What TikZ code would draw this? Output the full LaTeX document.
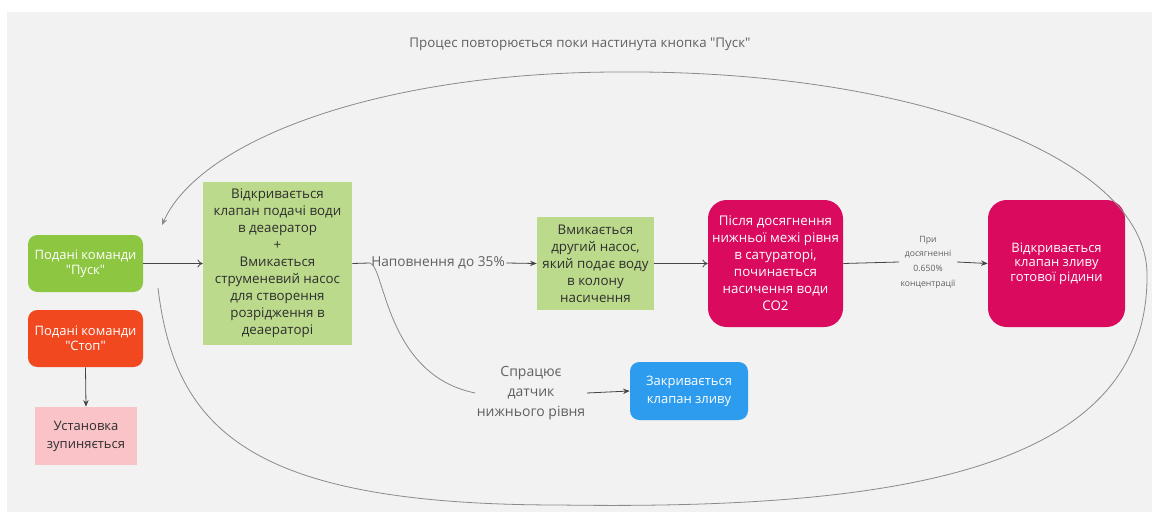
\documentclass[tikz,border=0pt]{standalone}
\usepackage{fontspec}
\setmainfont{Open Sans}[Ligatures=TeXOff]
\usetikzlibrary{arrows.meta}
\definecolor{bggray}{HTML}{F2F2F2}
\definecolor{puskgreen}{HTML}{8DC641}
\definecolor{stopred}{HTML}{F1481F}
\definecolor{pinkbox}{HTML}{F9C3C7}
\definecolor{lightgreen}{HTML}{BCDA8C}
\definecolor{magentabox}{HTML}{DA0A5E}
\definecolor{bluebox}{HTML}{2D9CEF}
\definecolor{darktext}{HTML}{2E2E2E}
\definecolor{graytext}{HTML}{606060}
\definecolor{linecol}{HTML}{444444}
\definecolor{loopcol}{HTML}{8A8A8A}
\begin{document}
\begin{tikzpicture}[x=0.75pt,y=-0.75pt,
  box/.style={align=center,inner sep=0pt,font=\fontsize{10}{12.75}\selectfont},
  whitebox/.style={box,text=white},
  darkbox/.style={box,text=darktext},
  lbl/.style={align=center,inner sep=1pt,text=graytext},
  conn/.style={draw=linecol,line width=0.6pt},
  arr/.style={conn,-{Stealth[length=5pt,width=4pt]}},
  openarr/.style={conn,-{To[length=4pt,width=6pt]}},
  loop/.style={draw=loopcol,line width=0.6pt}]
\useasboundingbox (0,0) rectangle (1152,524);
\fill[white] (0,0) rectangle (1152,524);
\fill[bggray] (7,12) rectangle (1152,512);

\node[lbl,font=\fontsize{10}{12}\selectfont] (title) at (580,44) {Процес повторюється поки настинута кнопка "Пуск"};

\node[whitebox,fill=puskgreen,rounded corners=7pt,minimum width=115*0.75pt,minimum height=57*0.75pt,font=\fontsize{9.75}{11.25}\selectfont] (pusk) at (85.5,263.5) {Подані команди\\"Пуск"};
\node[whitebox,fill=stopred,rounded corners=7pt,minimum width=115*0.75pt,minimum height=57*0.75pt,font=\fontsize{9.75}{11.25}\selectfont] (stop) at (85.5,338.5) {Подані команди\\"Стоп"};
\node[box,text=darktext,fill=pinkbox,minimum width=102*0.75pt,minimum height=58*0.75pt,font=\fontsize{9.75}{13.5}\selectfont] (ust) at (86,436) {Установка\\зупиняється};

\node[darkbox,fill=lightgreen,minimum width=149*0.75pt,minimum height=163*0.75pt] (box1) at (277.5,263.5) {Відкривається\\клапан подачі води\\в деаератор\\+\\Вмикається\\струменевий насос\\для створення\\розрідження в\\деаераторі};

\node[lbl,font=\fontsize{10.25}{12}\selectfont] (nap) at (438,263) {Наповнення до 35\%};

\node[darkbox,fill=lightgreen,minimum width=117*0.75pt,minimum height=93*0.75pt] (box2) at (595.5,263.5) {Вмикається\\другий насос,\\який подає воду\\в колону\\насичення};

\node[whitebox,fill=magentabox,rounded corners=14pt,minimum width=135*0.75pt,minimum height=127*0.75pt] (box3) at (775.5,263.5) {Після досягнення\\нижньої межі рівня\\в сатураторі,\\починається\\насичення води\\CO2};

\node[lbl,font=\fontsize{6.5}{11}\selectfont] (pri) at (928,262) {При\\досягненні\\0.650\%\\концентрації};

\node[whitebox,fill=magentabox,rounded corners=14pt,minimum width=137*0.75pt,minimum height=127*0.75pt,font=\fontsize{9.75}{10.75}\selectfont] (box4) at (1056.5,263.5) {Відкривається\\клапан зливу\\готової рідини};

\node[lbl,font=\fontsize{10.5}{15}\selectfont] (sensor) at (531,393) {Спрацює\\датчик\\нижнього рівня};

\node[whitebox,fill=bluebox,rounded corners=7pt,minimum width=118*0.75pt,minimum height=58*0.75pt,font=\fontsize{9.75}{13.5}\selectfont] (blue) at (689,391) {Закривається\\клапан зливу};

% connectors
\draw[openarr] (pusk.east) -- (box1.west);
\draw[arr] (stop.south) -- (ust.north);
\draw[conn] (box1.east) -- (nap.west);
\draw[arr] (nap.east) -- (box2.west);
\draw[openarr] (box2.east) -- (box3.west);
\draw[conn] (box3.east) -- (pri.west);
\draw[arr] (pri.east) -- (box4.west);
\draw[arr] (sensor.east) -- (blue.west);
\draw[loop] (nap.west) .. controls (385,265) and (385,375) .. (sensor.west);

% big loop
\coordinate (loopstart) at (158,288);
\coordinate (loopbottom) at (560,505);
\coordinate (loopright) at (1147,273);
\coordinate (looptop) at (620,72);
\coordinate (loopend) at (162,225);
\draw[loop,-{Stealth[length=5pt,width=4pt]}] (loopstart)
  .. controls (175,430) and (250,505) .. (loopbottom)
  .. controls (900,510) and (1150,470) .. (loopright)
  .. controls (1145,160) and (920,70) .. (looptop)
  .. controls (380,72) and (200,140) .. (loopend);
\end{tikzpicture}
\end{document}
